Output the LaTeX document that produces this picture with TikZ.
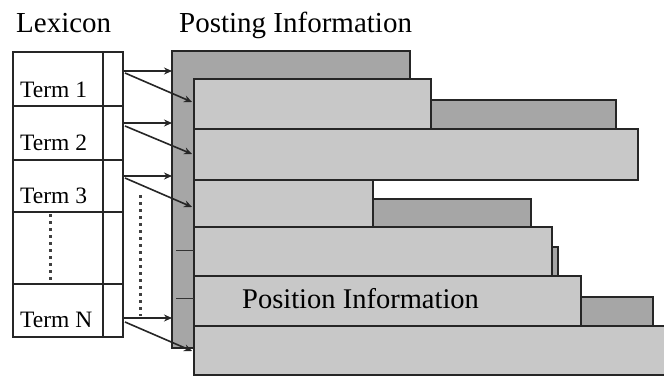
\documentclass[tikz,border=0pt]{standalone}
\usepackage{fontspec}
\setmainfont{Liberation Serif}
\usetikzlibrary{arrows.meta}
\definecolor{postdark}{HTML}{A6A6A6}
\definecolor{postlight}{HTML}{C8C8C8}
\begin{document}
\begin{tikzpicture}[x=1pt,y=-1pt,
  frame/.style={draw=black!85,line width=2pt},
  darkbar/.style={frame,fill=postdark},
  lightbar/.style={frame,fill=postlight},
  title/.style={anchor=base west,inner sep=0pt,font=\fontsize{29}{31}\selectfont},
  termlabel/.style={anchor=base west,inner sep=0pt,font=\fontsize{23.5}{25}\selectfont},
  ptr/.style={line width=1.6pt,draw=black!85,-{Stealth[length=8pt,width=7pt]}},
  dotline/.style={line width=3pt,draw=black!75,dash pattern=on 3pt off 4pt}]
\useasboundingbox (0,0) rectangle (664,377);
\fill[white] (0,0) rectangle (664,377);

% headings
\node[title] (hlex) at (16,33) {Lexicon};
\node[title] (hpost) at (179,33) {Posting Information};

% posting lists: dark pieces first, light pieces drawn over them
\draw[darkbar] (172,51) -- (410,51) -- (410,79) -- (194,79) -- (194,348) -- (172,348) -- cycle;
\draw[darkbar] (431,100) rectangle (616,129);
\draw[darkbar] (373,199) rectangle (531,227);
\draw[darkbar] (552,247) rectangle (558,276);
\draw[darkbar] (581,297) rectangle (653,326);

\draw[lightbar] (194,79) rectangle (431,129);
\draw[lightbar] (194,129) rectangle (638,180);
\draw[lightbar] (194,180) rectangle (373,227);
\draw[lightbar] (194,227) rectangle (552,276);
\draw[lightbar] (194,276) rectangle (581,326);
\draw[lightbar] (194,326) rectangle (670,375);
\node[anchor=base west,inner sep=0pt,font=\fontsize{28.5}{30}\selectfont] (posinfo) at (242,308) {Position Information};

% separators inside the dark column
\draw[line width=1pt,black!80] (176,250) -- (194,250);
\draw[line width=1pt,black!80] (176,298) -- (194,298);

% lexicon table
\draw[frame] (13,52) rectangle (123,337);
\draw[frame] (103,52) -- (103,337);
\foreach \yy in {106,160,212,284} \draw[frame] (13,\yy) -- (123,\yy);
\node[termlabel] (t1) at (20,98) {Term 1};
\node[termlabel] (t2) at (20,150) {Term 2};
\node[termlabel] (t3) at (20,203) {Term 3};
\node[termlabel] (tn) at (20,327) {Term N};
\draw[dotline] (50,214) -- (50,281);

% pointer ends
\coordinate (s1) at (123,71);  \coordinate (d1) at (172,71);
\coordinate (s2) at (123,123); \coordinate (d2) at (172,123);
\coordinate (s3) at (123,176); \coordinate (d3) at (172,176);
\coordinate (sn) at (123,318); \coordinate (dn) at (172,318);
\coordinate (u1) at (125,73);  \coordinate (e1) at (192,102);
\coordinate (u2) at (125,126); \coordinate (e2) at (192,154);
\coordinate (u3) at (125,178); \coordinate (e3) at (192,207);
\coordinate (un) at (125,322); \coordinate (en) at (192,351);

\foreach \a/\b in {s1/d1,s2/d2,s3/d3,sn/dn,u1/e1,u2/e2,u3/e3,un/en}
  \draw[ptr] (\a) -- (\b);

\coordinate (v1) at (140,195);
\coordinate (v2) at (140,316);
\draw[dotline] (v1) -- (v2);
\end{tikzpicture}
\end{document}
